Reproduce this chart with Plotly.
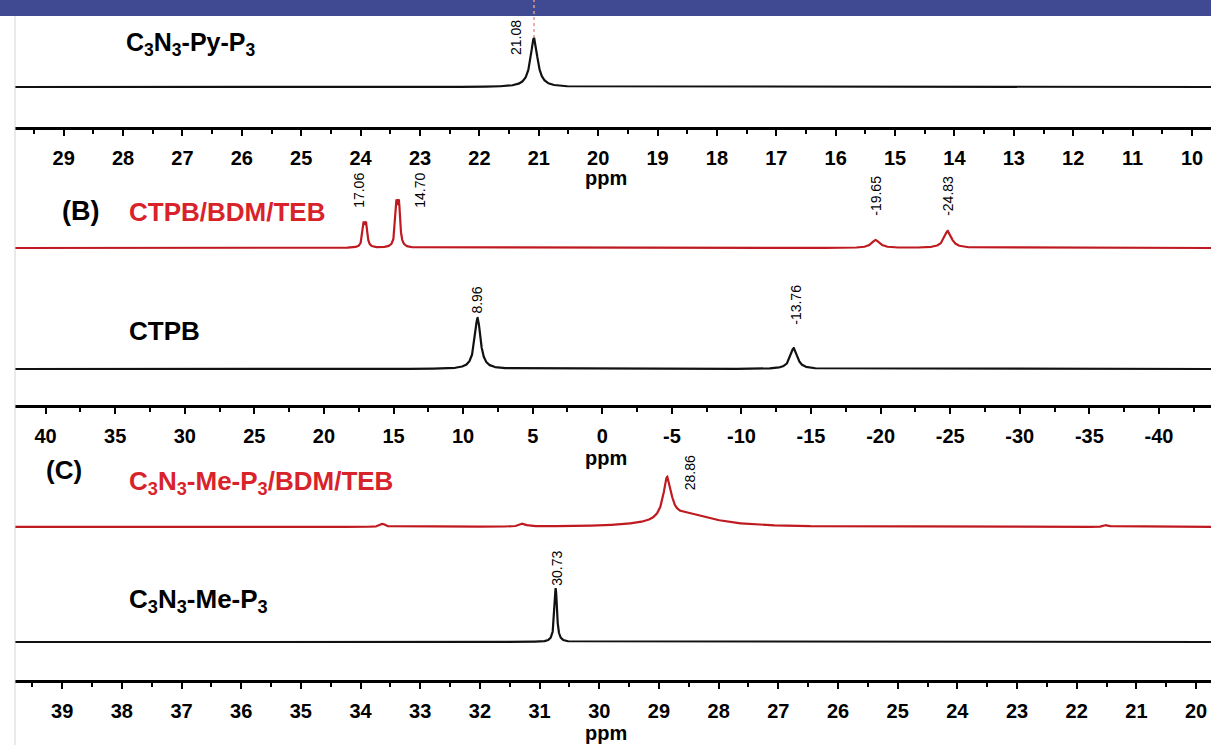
import numpy as np
import plotly.graph_objects as go

# ---------------- data ----------------
# Panel A : C3N3-Py-P3
a_black_pos = [21.08]
a_black_h = [49]
a_black_w = [0.07]
a_black_base = 40

# Panel B : CTPB/BDM/TEB (red) and CTPB (black)
b_red_pos = [17.15, 16.97, 14.79, 14.61, -19.65, -24.83]
b_red_h = [21, 21, 39, 39, 8, 17]
b_red_w = [0.1, 0.1, 0.1, 0.1, 0.35, 0.32]
b_red_base = 157
b_black_pos = [8.96, -13.76]
b_black_h = [51, 21]
b_black_w = [0.25, 0.3]
b_black_base = 36

# Panel C : C3N3-Me-P3/BDM/TEB (red) and C3N3-Me-P3 (black)
c_red_pos = [28.86, 28.5, 33.63, 31.28, 21.5]
c_red_h = [42, 12, 3, 3, 2]
c_red_w = [0.08, 0.55, 0.05, 0.06, 0.05]
c_red_base = 153
c_black_pos = [30.73]
c_black_h = [54]
c_black_w = [0.025]
c_black_base = 38

# peak labels
a_labels = ["21.08"]
a_label_pos = [21.08]
b_red_labels = ["17.06", "14.70", "-19.65", "-24.83"]
b_red_label_pos = [17.06, 14.70, -19.65, -24.83]
b_black_labels = ["8.96", "-13.76"]
b_black_label_pos = [8.96, -13.76]
c_red_labels = ["28.86"]
c_red_label_pos = [28.86]
c_black_labels = ["30.73"]
c_black_label_pos = [30.73]

# tick labels
a_ticks = list(range(29, 9, -1))
b_ticks = [40, 35, 30, 25, 20, 15, 10, 5, 0, -5, -10, -15, -20, -25, -30, -35, -40]
c_ticks = list(range(39, 19, -1))

# ---------------- layout helpers ----------------
W, H = 1211, 745
def py(px):  # pixel row -> paper y
    return 1 - px / H
def pxx(px):
    return px / W

FONT = "Liberation Sans, Arial, sans-serif"
RED_LINE = "#bf1a20"
RED_TEXT = "#d9232b"

def spectrum(xr, pos, h, w, base):
    x = np.linspace(xr[1], xr[0], 9000)
    y = np.full_like(x, float(base))
    for p, hh, ww in zip(pos, h, w):
        y += hh / (1 + ((x - p) / ww) ** 2)
    return x, y

# axis ranges (reversed ppm)
ra = [29.82, 9.68]
rb = [42.2, -43.74]
rc = [39.79, 19.75]

fig = go.Figure()

def add_trace(xr, pos, h, w, base, color, xa, ya):
    x, y = spectrum(xr, pos, h, w, base)
    fig.add_trace(go.Scatter(x=x, y=y, mode="lines", xaxis=xa, yaxis=ya,
                             line=dict(color=color, width=2.2), hoverinfo="skip",
                             showlegend=False))

add_trace(ra, a_black_pos, a_black_h, a_black_w, a_black_base, "#111111", "x", "y")
add_trace(rb, b_red_pos, b_red_h, b_red_w, b_red_base, RED_LINE, "x2", "y2")
add_trace(rb, b_black_pos, b_black_h, b_black_w, b_black_base, "#111111", "x2", "y2")
add_trace(rc, c_red_pos, c_red_h, c_red_w, c_red_base, RED_LINE, "x3", "y3")
add_trace(rc, c_black_pos, c_black_h, c_black_w, c_black_base, "#111111", "x3", "y3")

def xaxis_cfg(rng, ticks, minor_dtick, domain_y_anchor):
    return dict(
        domain=[pxx(15), 1], range=rng, anchor=domain_y_anchor,
        showline=True, linewidth=3, linecolor="black", mirror=False,
        showgrid=False, zeroline=False,
        ticks="outside", ticklen=6, tickwidth=2, tickcolor="black",
        tickmode="array", tickvals=ticks, ticktext=[str(t) for t in ticks],
        tickfont=dict(family=FONT, size=20, color="black", weight="bold"),
        ticklabelstandoff=5,
        minor=dict(dtick=minor_dtick, ticks="outside", ticklen=4, tickwidth=1.5,
                   tickcolor="black", showgrid=False),
        fixedrange=True,
    )

def yaxis_cfg(top_px, bottom_px):
    return dict(domain=[py(bottom_px), py(top_px)], range=[0, bottom_px - top_px],
                visible=False, fixedrange=True)

fig.update_layout(
    width=W, height=H, margin=dict(l=0, r=0, t=0, b=0),
    paper_bgcolor="white", plot_bgcolor="white",
    xaxis=xaxis_cfg(ra, a_ticks, 0.5, "y"),
    yaxis=yaxis_cfg(0, 127),
    xaxis2=xaxis_cfg(rb, b_ticks, 2.5, "y2"),
    yaxis2=yaxis_cfg(160, 405),
    xaxis3=xaxis_cfg(rc, c_ticks, 0.5, "y3"),
    yaxis3=yaxis_cfg(445, 680),
)

ann = []
def label(text, left_px, cy_px, color="black", size=25):
    ann.append(dict(text=text, x=pxx(left_px), y=py(cy_px), xref="paper", yref="paper",
                    xanchor="left", yanchor="middle", showarrow=False,
                    font=dict(family=FONT, size=size, color=color, weight="bold")))

label("C<sub>3</sub>N<sub>3</sub>-Py-P<sub>3</sub>", 124, 44)
label("(B)", 60, 211, size=27)
label("CTPB/BDM/TEB", 127, 212, RED_TEXT, size=26)
label("CTPB", 127, 331, size=26)
label("(C)", 44, 470, size=26)
label("C<sub>3</sub>N<sub>3</sub>-Me-P<sub>3</sub>/BDM/TEB", 127, 482, RED_TEXT, size=26)
label("C<sub>3</sub>N<sub>3</sub>-Me-P<sub>3</sub>", 127, 600, size=26)

# ppm titles
for cy in (178, 458, 733):
    ann.append(dict(text="ppm", x=pxx(606), y=py(cy), xref="paper", yref="paper",
                    xanchor="center", yanchor="middle", showarrow=False,
                    font=dict(family=FONT, size=20, color="black", weight="bold")))

def peak_labels(texts, positions, xa, ya, yval, shifts):
    for t, p, s in zip(texts, positions, shifts):
        ann.append(dict(text=t, x=p, y=yval, xref=xa, yref=ya, xshift=s,
                        textangle=-90, xanchor="center", yanchor="middle",
                        showarrow=False,
                        font=dict(family=FONT, size=14, color="black")))

peak_labels(a_labels, a_label_pos, "x", "y", 89, [-18])
peak_labels(b_red_labels[:2], b_red_label_pos[:2], "x2", "y2", 215, [-6, 22])
peak_labels(b_red_labels[2:], b_red_label_pos[2:], "x2", "y2", 209, [0, 0])
peak_labels(b_black_labels[:1], b_black_label_pos[:1], "x2", "y2", 105, [-1])
peak_labels(b_black_labels[1:], b_black_label_pos[1:], "x2", "y2", 100, [2])
peak_labels(c_red_labels, c_red_label_pos, "x3", "y3", 207, [23])
peak_labels(c_black_labels, c_black_label_pos, "x3", "y3", 112, [1])

fig.update_layout(annotations=ann)

# decorations: top blue band, left gray rule, dotted marker above 21.08 peak
fig.add_shape(type="rect", xref="paper", yref="paper", x0=0, x1=1, y0=py(16), y1=1,
              fillcolor="#404a92", line=dict(width=0), layer="above")
fig.add_shape(type="line", xref="paper", yref="paper", x0=pxx(15), x1=pxx(15),
              y0=0, y1=py(16), line=dict(color="#d4d4d4", width=1))
fig.add_shape(type="line", xref="x", yref="y", x0=a_black_pos[0], x1=a_black_pos[0],
              y0=a_black_base + a_black_h[0], y1=127,
              line=dict(color="#e39a8a", width=1.5, dash="dot"))

fig.write_html("out.html", config={"displayModeBar": False},
               post_script="document.body.style.margin='0px';document.body.style.overflow='hidden';")
